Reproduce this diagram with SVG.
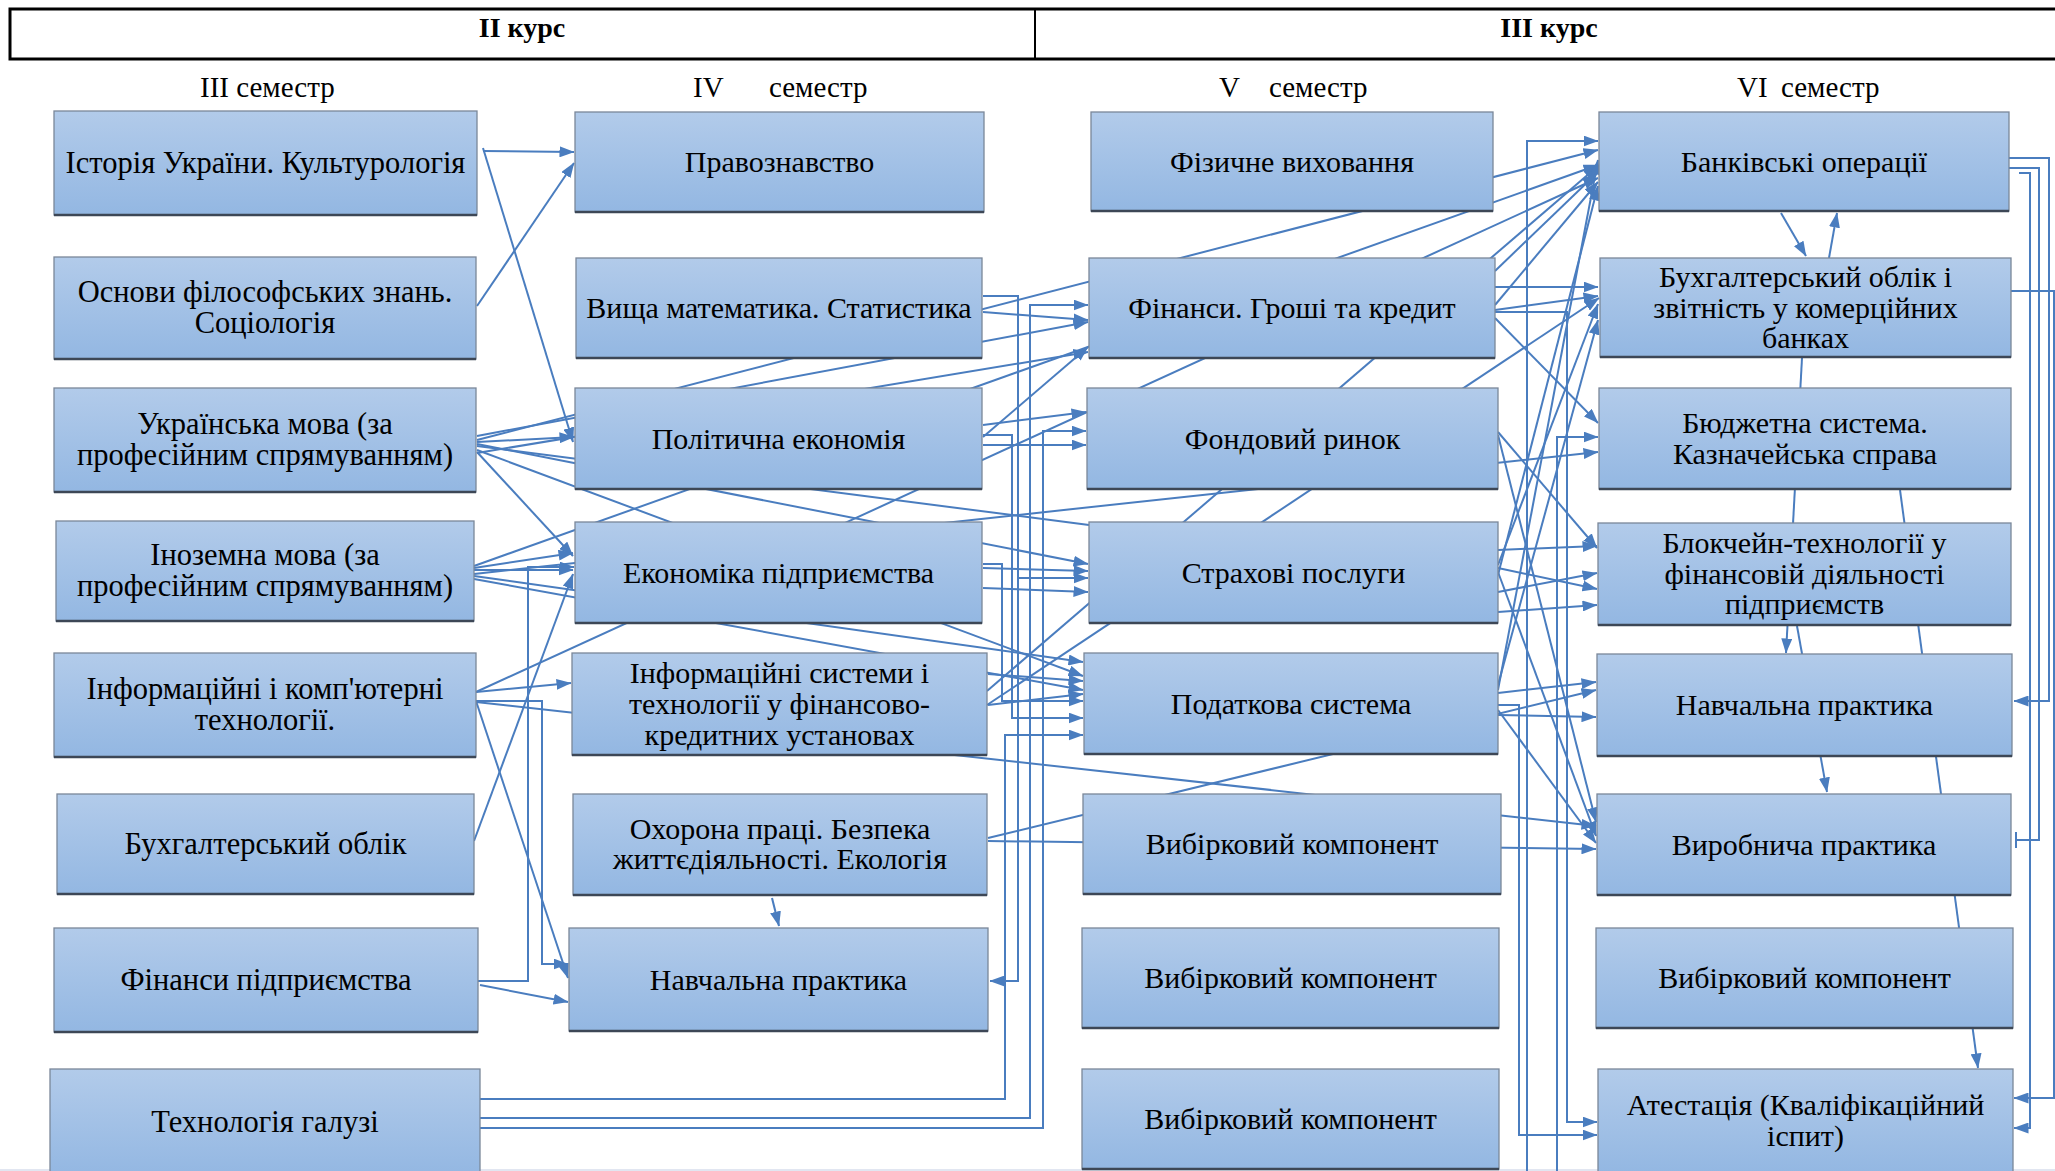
<svg xmlns="http://www.w3.org/2000/svg" width="2055" height="1171" viewBox="0 0 2055 1171">
<style>
.box{fill:url(#gb);stroke:#7a8799;stroke-width:1.3}
.sh{stroke:#3d4756;stroke-width:2.5}
.t{font-family:"Liberation Serif","Times New Roman",serif;font-size:30px;fill:#000;text-anchor:middle}
.t1{font-size:30.5px}
.h{font-family:"Liberation Serif","Times New Roman",serif;font-size:28px;font-weight:bold;fill:#000;text-anchor:middle}
.s{font-family:"Liberation Serif","Times New Roman",serif;font-size:29px;fill:#000}
#connectors path{fill:none;stroke:#4a7dbf;stroke-width:2}
#connectors path.a{marker-end:url(#ah)}
</style>
<defs>
<linearGradient id="gb" x1="0" y1="0" x2="0" y2="1">
<stop offset="0" stop-color="#b2cbea"/>
<stop offset="1" stop-color="#93b7e2"/>
</linearGradient>
<marker id="ah" viewBox="0 0 15 11" refX="14.5" refY="5.5" markerWidth="15" markerHeight="11" markerUnits="userSpaceOnUse" orient="auto">
<path d="M0,0 L15,5.5 L0,11 z" fill="#4a7dbf"/>
</marker>
</defs>
<rect width="2055" height="1171" fill="#fff"/>

<g id="header">
<rect x="10" y="9" width="2060" height="50" fill="none" stroke="#000" stroke-width="3"/>
<line x1="1035" y1="9" x2="1035" y2="59" stroke="#000" stroke-width="2"/>
<text class="h" x="522" y="37">II курс</text>
<text class="h" x="1549" y="37">III курс</text>
<text class="s" x="200" y="97">III семестр</text>
<text class="s"><tspan x="693" y="97">IV</tspan><tspan x="769" y="97">семестр</tspan></text>
<text class="s"><tspan x="1219" y="97">V</tspan><tspan x="1269" y="97">семестр</tspan></text>
<text class="s"><tspan x="1737" y="97">VI</tspan><tspan x="1781" y="97">семестр</tspan></text>
</g>
<line x1="0" y1="1170" x2="2055" y2="1170" stroke="#e1e6f1" stroke-width="2"/>

<g id="connectors">
<path class="a" d="M483,151 L574,152"/>
<path class="a" d="M483,148 L573,442"/>
<path class="a" d="M477,306 L574,163"/>
<path class="a" d="M477,440 L1598,150"/>
<path class="a" d="M477,436 L1088,322"/>
<path class="a" d="M477,453 L1088,352"/>
<path class="a" d="M477,442 L574,437"/>
<path class="a" d="M477,444 L1088,564"/>
<path d="M477,446 L1089,525"/>
<path class="a" d="M477,450 L1083,676"/>
<path class="a" d="M477,452 L573,556"/>
<path class="a" d="M474,566 L1598,165"/>
<path class="a" d="M474,568 L573,553"/>
<path class="a" d="M474,570 L573,570"/>
<path class="a" d="M474,574 L1598,452"/>
<path class="a" d="M474,579 L1083,690"/>
<path class="a" d="M474,576 L1083,662"/>
<path class="a" d="M476,692 L571,683"/>
<path class="a" d="M476,692 L1598,178"/>
<path class="a" d="M476,702 L1596,826"/>
<path class="a" d="M476,701 L542,701 L542,964 L568,964"/>
<path class="a" d="M476,701 L568,978"/>
<path class="a" d="M474,841 L573,574"/>
<path class="a" d="M478,981 L528,981 L528,567 L574,567"/>
<path class="a" d="M480,985 L568,1002"/>
<path class="a" d="M480,1099 L1005,1099 L1005,735 L1083,735"/>
<path class="a" d="M480,1118 L1030,1118 L1030,305 L1088,305"/>
<path class="a" d="M480,1128 L1043,1128 L1043,431 L1086,431"/>

<path class="a" d="M983,296 L1018,296 L1018,981 L990,981"/>
<path class="a" d="M1018,578 L1088,578"/>
<path class="a" d="M983,312 L1088,320"/>
<path class="a" d="M983,425 L1086,412"/>
<path class="a" d="M983,437 L1088,347"/>
<path class="a" d="M983,445 L1086,445"/>
<path class="a" d="M983,435 L1012,435 L1012,718 L1083,718"/>
<path class="a" d="M983,564 L1002,564 L1002,701 L1083,701"/>
<path class="a" d="M983,568 L1088,571"/>
<path class="a" d="M983,588 L1088,592"/>
<path class="a" d="M987,691 L1598,166"/>
<path class="a" d="M987,705 L1599,298"/>
<path class="a" d="M988,674 L1083,681"/>
<path class="a" d="M988,705 L1083,694"/>
<path class="a" d="M988,841 L1596,849"/>
<path class="a" d="M988,838 L1596,690"/>
<path class="a" d="M772,898 L779,926"/>

<path class="a" d="M1495,287 L1598,287"/>
<path class="a" d="M1495,310 L1598,296"/>
<path class="a" d="M1495,312 L1567,312 L1567,1122 L1597,1122"/>
<path class="a" d="M1495,271 L1598,172"/>
<path class="a" d="M1495,305 L1598,182"/>
<path class="a" d="M1495,318 L1598,423"/>
<path class="a" d="M1527,1171 L1527,141 L1598,141"/>
<path class="a" d="M1557,1171 L1557,437 L1598,437"/>
<path class="a" d="M1498,432 L1597,548"/>
<path class="a" d="M1498,435 L1596,822"/>
<path class="a" d="M1498,550 L1597,546"/>
<path class="a" d="M1498,568 L1597,589"/>
<path class="a" d="M1498,592 L1597,573"/>
<path class="a" d="M1498,612 L1597,605"/>
<path class="a" d="M1498,572 L1596,836"/>
<path class="a" d="M1498,575 L1598,186"/>
<path class="a" d="M1498,565 L1598,304"/>
<path class="a" d="M1498,693 L1596,682"/>
<path class="a" d="M1498,715 L1596,717"/>
<path class="a" d="M1498,705 L1519,705 L1519,1135 L1597,1135"/>
<path class="a" d="M1498,690 L1598,160"/>
<path class="a" d="M1498,685 L1598,320"/>
<path class="a" d="M1498,710 L1596,843"/>

<path class="a" d="M1781,213 L1806,256"/>
<path class="a" d="M1829,258 L1837,213"/>
<path class="a" d="M1802,358 L1786,653"/>
<path class="a" d="M1797,626 L1827,792"/>
<path class="a" d="M1900,490 L1978,1068"/>
<path class="a" d="M2009,158 L2049,158 L2049,701 L2014,701"/>
<path d="M2009,168 L2039,168 L2039,840 L2016,840 M2016,832 L2016,848"/>
<path class="a" d="M2019,173 L2030,173 L2030,1128 L2014,1128"/>
<path class="a" d="M2011,291 L2054,291 L2054,1098 L2014,1098"/>
</g>

<g id="nodes">
<g id="n-istoriia"><rect class="box" x="54" y="111" width="423" height="104"/><line class="sh" x1="54" y1="215" x2="477" y2="215"/><text class="t t1" x="265.5" y="173">Історія України. Культурологія</text></g>
<g id="n-osnovy"><rect class="box" x="54" y="257" width="422" height="102"/><line class="sh" x1="54" y1="359" x2="476" y2="359"/><text class="t t1" x="265" y="302">Основи філософських знань.<tspan x="265" y="333">Соціологія</tspan></text></g>
<g id="n-ukr-mova"><rect class="box" x="54" y="388" width="422" height="104"/><line class="sh" x1="54" y1="492" x2="476" y2="492"/><text class="t t1" x="265" y="434">Українська мова (за<tspan x="265" y="465">професійним спрямуванням)</tspan></text></g>
<g id="n-inozem-mova"><rect class="box" x="56" y="521" width="418" height="100"/><line class="sh" x1="56" y1="621" x2="474" y2="621"/><text class="t t1" x="265" y="565">Іноземна мова (за<tspan x="265" y="596">професійним спрямуванням)</tspan></text></g>
<g id="n-inf-komp"><rect class="box" x="54" y="653" width="422" height="104"/><line class="sh" x1="54" y1="757" x2="476" y2="757"/><text class="t t1" x="265" y="699">Інформаційні і комп'ютерні<tspan x="265" y="730">технології.</tspan></text></g>
<g id="n-bukh-oblik"><rect class="box" x="57" y="794" width="417" height="100"/><line class="sh" x1="57" y1="894" x2="474" y2="894"/><text class="t t1" x="265.5" y="854">Бухгалтерський облік</text></g>
<g id="n-fin-pidpr"><rect class="box" x="54" y="928" width="424" height="104"/><line class="sh" x1="54" y1="1032" x2="478" y2="1032"/><text class="t t1" x="266" y="990">Фінанси підприємства</text></g>
<g id="n-tekh-haluzi"><rect class="box" x="50" y="1069" width="430" height="107"/><text class="t t1" x="265" y="1132">Технологія галузі</text></g>

<g id="n-pravo"><rect class="box" x="575" y="112" width="409" height="100"/><line class="sh" x1="575" y1="212" x2="984" y2="212"/><text class="t" x="779.5" y="172">Правознавство</text></g>
<g id="n-vyshcha-mat"><rect class="box" x="576" y="258" width="406" height="100"/><line class="sh" x1="576" y1="358" x2="982" y2="358"/><text class="t" x="779" y="318">Вища математика. Статистика</text></g>
<g id="n-polit-ek"><rect class="box" x="575" y="388" width="407" height="101"/><line class="sh" x1="575" y1="489" x2="982" y2="489"/><text class="t" x="778.5" y="448.5">Політична економія</text></g>
<g id="n-ek-pidpr"><rect class="box" x="575" y="522" width="407" height="101"/><line class="sh" x1="575" y1="623" x2="982" y2="623"/><text class="t" x="778.5" y="582.5">Економіка підприємства</text></g>
<g id="n-inf-syst"><rect class="box" x="572" y="653" width="415" height="102"/><line class="sh" x1="572" y1="755" x2="987" y2="755"/><text class="t" x="779.5" y="683">Інформаційні системи і<tspan x="779.5" y="713.5">технології у фінансово-</tspan><tspan x="779.5" y="744.5">кредитних установах</tspan></text></g>
<g id="n-okhorona"><rect class="box" x="573" y="794" width="414" height="101"/><line class="sh" x1="573" y1="895" x2="987" y2="895"/><text class="t" x="780" y="838.5">Охорона праці. Безпека<tspan x="780" y="868.5">життєдіяльності. Екологія</tspan></text></g>
<g id="n-navch-prakt-1"><rect class="box" x="569" y="928" width="419" height="103"/><line class="sh" x1="569" y1="1031" x2="988" y2="1031"/><text class="t" x="778.5" y="989.5">Навчальна практика</text></g>

<g id="n-fiz-vykh"><rect class="box" x="1091" y="112" width="402" height="99"/><line class="sh" x1="1091" y1="211" x2="1493" y2="211"/><text class="t" x="1292" y="171.5">Фізичне виховання</text></g>
<g id="n-finansy"><rect class="box" x="1089" y="258" width="406" height="100"/><line class="sh" x1="1089" y1="358" x2="1495" y2="358"/><text class="t" x="1292" y="318">Фінанси. Гроші та кредит</text></g>
<g id="n-fond-rynok"><rect class="box" x="1087" y="388" width="411" height="101"/><line class="sh" x1="1087" y1="489" x2="1498" y2="489"/><text class="t" x="1292.5" y="448.5">Фондовий ринок</text></g>
<g id="n-strakh"><rect class="box" x="1089" y="522" width="409" height="101"/><line class="sh" x1="1089" y1="623" x2="1498" y2="623"/><text class="t" x="1293.5" y="582.5">Страхові послуги</text></g>
<g id="n-podatk"><rect class="box" x="1084" y="653" width="414" height="101"/><line class="sh" x1="1084" y1="754" x2="1498" y2="754"/><text class="t" x="1291" y="713.5">Податкова система</text></g>
<g id="n-vybir-1"><rect class="box" x="1083" y="794" width="418" height="100"/><line class="sh" x1="1083" y1="894" x2="1501" y2="894"/><text class="t" x="1292" y="854">Вибірковий компонент</text></g>
<g id="n-vybir-2"><rect class="box" x="1082" y="928" width="417" height="100"/><line class="sh" x1="1082" y1="1028" x2="1499" y2="1028"/><text class="t" x="1290.5" y="988">Вибірковий компонент</text></g>
<g id="n-vybir-3"><rect class="box" x="1082" y="1069" width="417" height="100"/><line class="sh" x1="1082" y1="1169" x2="1499" y2="1169"/><text class="t" x="1290.5" y="1129">Вибірковий компонент</text></g>

<g id="n-bank-oper"><rect class="box" x="1599" y="112" width="410" height="99"/><line class="sh" x1="1599" y1="211" x2="2009" y2="211"/><text class="t" x="1804" y="171.5">Банківські операції</text></g>
<g id="n-bukh-bank"><rect class="box" x="1600" y="258" width="411" height="99"/><line class="sh" x1="1600" y1="357" x2="2011" y2="357"/><text class="t" x="1805.5" y="287">Бухгалтерський облік і<tspan x="1805.5" y="317.5">звітність у комерційних</tspan><tspan x="1805.5" y="348">банках</tspan></text></g>
<g id="n-budzhet"><rect class="box" x="1599" y="388" width="412" height="101"/><line class="sh" x1="1599" y1="489" x2="2011" y2="489"/><text class="t" x="1805" y="432.5">Бюджетна система.<tspan x="1805" y="463.5">Казначейська справа</tspan></text></g>
<g id="n-blokchein"><rect class="box" x="1598" y="523" width="413" height="102"/><line class="sh" x1="1598" y1="625" x2="2011" y2="625"/><text class="t" x="1804.5" y="553">Блокчейн-технології у<tspan x="1804.5" y="583.5">фінансовій діяльності</tspan><tspan x="1804.5" y="614">підприємств</tspan></text></g>
<g id="n-navch-prakt-2"><rect class="box" x="1597" y="654" width="415" height="102"/><line class="sh" x1="1597" y1="756" x2="2012" y2="756"/><text class="t" x="1804.5" y="715">Навчальна практика</text></g>
<g id="n-vyrob-prakt"><rect class="box" x="1597" y="794" width="414" height="101"/><line class="sh" x1="1597" y1="895" x2="2011" y2="895"/><text class="t" x="1804" y="854.5">Виробнича практика</text></g>
<g id="n-vybir-4"><rect class="box" x="1596" y="928" width="417" height="100"/><line class="sh" x1="1596" y1="1028" x2="2013" y2="1028"/><text class="t" x="1804.5" y="988">Вибірковий компонент</text></g>
<g id="n-atest"><rect class="box" x="1598" y="1069" width="415" height="104"/><text class="t" x="1805.5" y="1115">Атестація (Кваліфікаційний<tspan x="1805.5" y="1146">іспит)</tspan></text></g>
</g>
</svg>
